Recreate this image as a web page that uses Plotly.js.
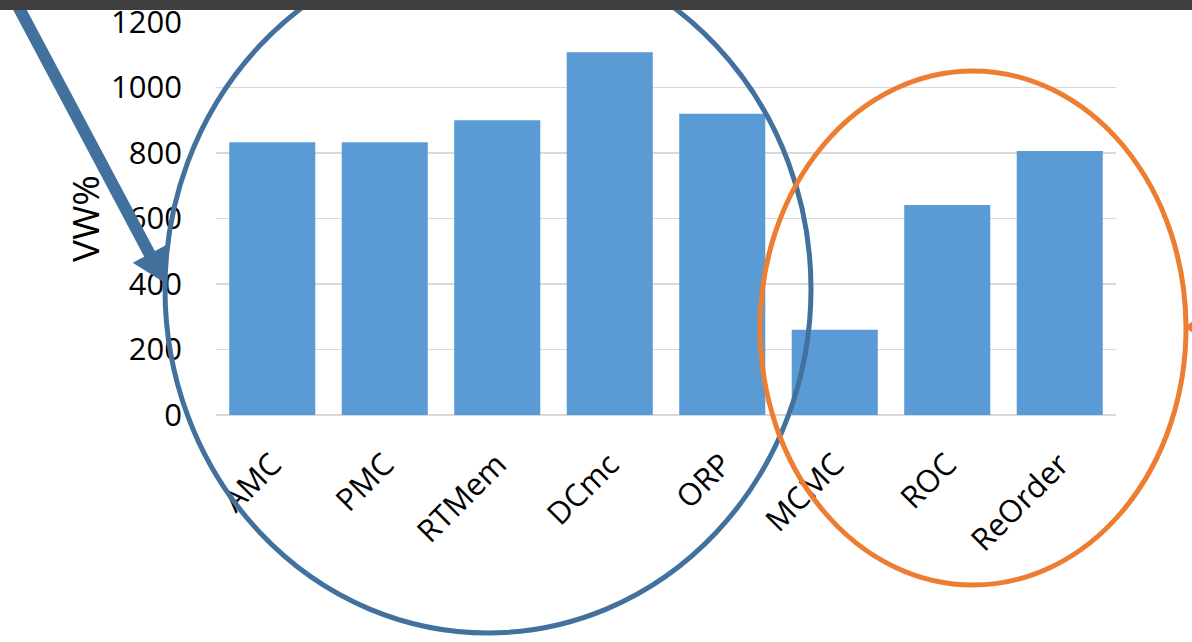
<!DOCTYPE html>
<html>
<head>
<meta charset="utf-8">
<script src="https://cdn.plot.ly/plotly-3.0.1.min.js"></script>
<style>html,body{margin:0;padding:0;background:#fff;}#chart{width:1192px;height:642px;}</style>
</head>
<body>
<div id="chart"></div>
<script>
const categories = ["AMC", "PMC", "RTMem", "DCmc", "ORP", "MCMC", "ROC", "ReOrder"];
const vwPercent = [833, 833, 900, 1108, 920, 260, 641, 806];
const yTickValues = [0, 200, 400, 600, 800, 1000, 1200];

const W = 1192, H = 642;
const L = 216, R = 1116, T = 22, B = 415;
const px = x => (x - L) / (R - L);
const py = y => (B - y) / (B - T);

const BLUE = '#41719c', ORANGE = '#ed7d31';

// arrow geometry (pixel space)
const tip = [165, 283];
const u = [0.469, 0.883], n = [0.883, -0.469];
const hl = 33, hw = 19;
const base = [tip[0] - hl * u[0], tip[1] - hl * u[1]];
const c1 = [base[0] - hw * n[0], base[1] - hw * n[1]];
const c2 = [base[0] + hw * n[0], base[1] + hw * n[1]];
const start = [tip[0] - 330 * u[0], tip[1] - 330 * u[1]];
const P = p => px(p[0]) + ',' + py(p[1]);

const shapes = [
  {type: 'circle', xref: 'paper', yref: 'paper', layer: 'above',
   x0: px(165), x1: px(811), y0: py(633), y1: py(-55),
   line: {color: BLUE, width: 5}},
  {type: 'circle', xref: 'paper', yref: 'paper', layer: 'above',
   x0: px(760), x1: px(1186), y0: py(585), y1: py(71),
   line: {color: ORANGE, width: 5}},
  {type: 'line', xref: 'paper', yref: 'paper', layer: 'above',
   x0: px(start[0]), y0: py(start[1]), x1: px(base[0] + 2 * u[0]), y1: py(base[1] + 2 * u[1]),
   line: {color: BLUE, width: 12}},
  {type: 'path', xref: 'paper', yref: 'paper', layer: 'above',
   path: 'M' + P(tip) + ' L' + P(c1) + ' L' + P(c2) + ' Z',
   fillcolor: BLUE, line: {width: 0}},
  {type: 'path', xref: 'paper', yref: 'paper', layer: 'above',
   path: 'M' + P([1185, 327]) + ' L' + P([1194, 320]) + ' L' + P([1194, 334]) + ' Z',
   fillcolor: ORANGE, line: {width: 0}},
  {type: 'rect', xref: 'paper', yref: 'paper', layer: 'above',
   x0: px(-5), x1: px(W + 5), y0: py(10), y1: py(-5),
   fillcolor: '#3f3f3f', line: {width: 0}}
];

const trace = {
  type: 'bar',
  x: categories,
  y: vwPercent,
  marker: {color: '#5b9bd5'},
  hoverinfo: 'skip'
};

const layout = {
  width: W, height: H,
  margin: {l: L, r: W - R, t: T, b: H - B, pad: 0},
  paper_bgcolor: '#ffffff',
  plot_bgcolor: '#ffffff',
  bargap: 0.235,
  showlegend: false,
  font: {family: '"Open Sans", "Liberation Sans", sans-serif', color: '#000000'},
  xaxis: {
    type: 'category',
    tickangle: -45,
    tickfont: {size: 31, color: '#000000'},
    ticks: '',
    ticklabelstandoff: 24,
    ticklabeloverflow: 'allow',
    showgrid: false,
    showline: false,
    zeroline: false,
    automargin: false
  },
  yaxis: {
    range: [0, 1200],
    tickvals: yTickValues,
    ticktext: yTickValues.map(String),
    tickfont: {size: 31, color: '#000000'},
    ticks: '',
    ticklabelstandoff: 33,
    ticklabeloverflow: 'allow',
    showgrid: true,
    gridcolor: '#d9d9d9',
    gridwidth: 1.5,
    zeroline: true,
    zerolinecolor: '#d9d9d9',
    zerolinewidth: 1.5,
    showline: false,
    automargin: false,
    title: {text: 'VW%', font: {size: 37, color: '#000000'}, standoff: 0}
  },
  shapes: shapes
};

Plotly.newPlot('chart', [trace], layout, {displayModeBar: false, staticPlot: true});
</script>
</body>
</html>
